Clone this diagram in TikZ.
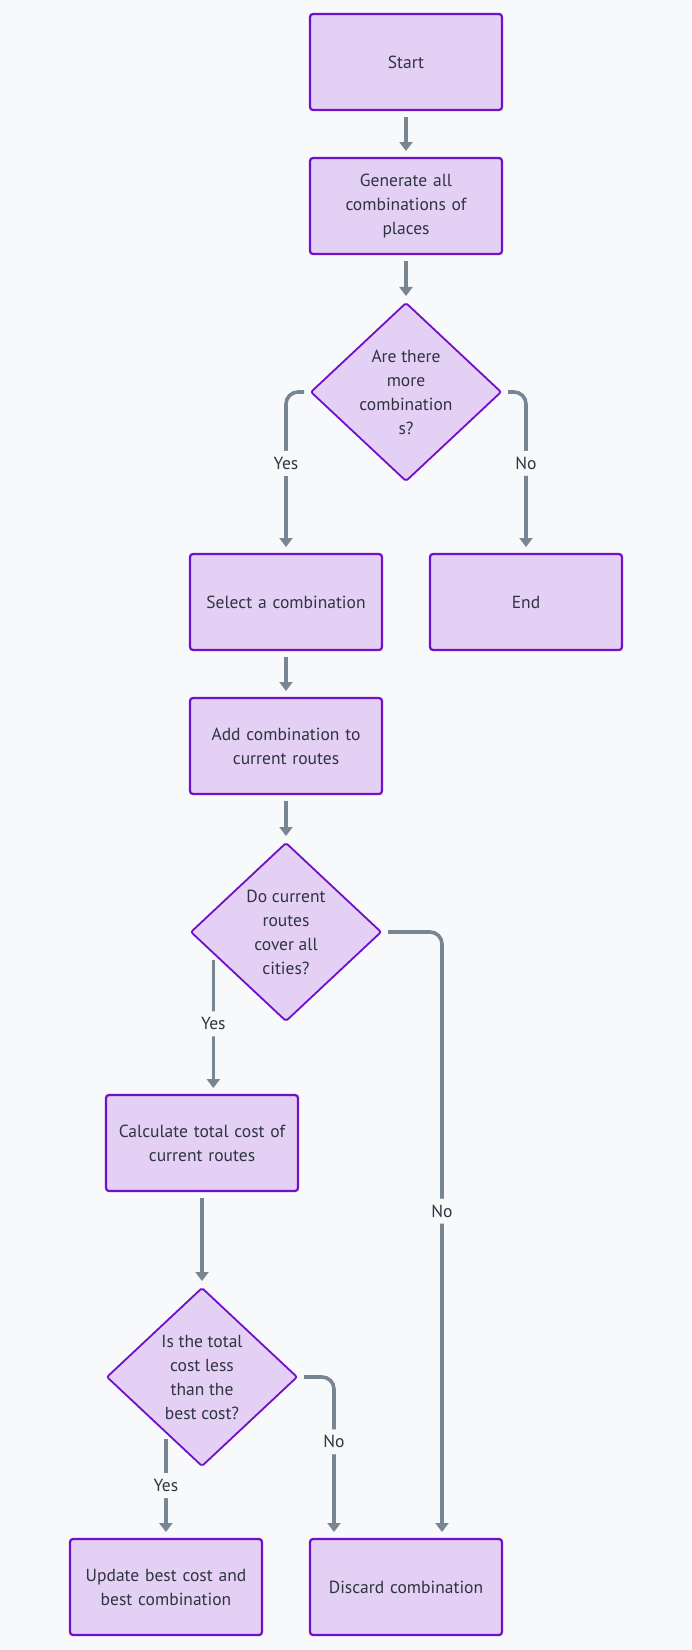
\documentclass[tikz,border=0pt]{standalone}
\usepackage{fontspec}
\setmainfont{PT Sans}
\usetikzlibrary{positioning,shapes.geometric,arrows.meta,calc}
\definecolor{bgcol}{HTML}{F8F9FB}
\definecolor{nodefill}{HTML}{E4D0F4}
\definecolor{nodeline}{HTML}{7010C8}
\definecolor{flowcol}{HTML}{788593}
\definecolor{txtcol}{HTML}{2E3440}
\tikzset{
  process/.style={rectangle, draw=nodeline, fill=nodefill, line width=2.2pt,
    rounded corners=3pt, minimum width=192pt, minimum height=96pt,
    text width=180pt, inner sep=2pt, outer sep=0pt, align=center,
    text=txtcol, font=\fontsize{17.5}{24}\selectfont},
  decision/.style={diamond, draw=nodeline, fill=nodefill, line width=1.8pt,
    rounded corners=2pt, minimum width=190pt, minimum height=178pt,
    inner sep=0pt, outer sep=0pt},
  qtext/.style={align=center, text=txtcol, inner sep=0pt,
    font=\fontsize{17.5}{24}\selectfont},
  flow/.style={draw=flowcol, line width=3.6pt, rounded corners=12pt,
    -{Triangle[length=9pt,width=13pt]}, shorten <=7pt, shorten >=7pt},
  lbl/.style={fill=bgcol, text=txtcol, inner sep=2pt, minimum height=25pt,
    font=\fontsize{17.5}{24}\selectfont},
}
\begin{document}
\begin{tikzpicture}
  \useasboundingbox (0,0) rectangle (692pt,-1650pt);
  \fill[bgcol] (0,0) rectangle (692pt,-1650pt);

  \node[process] (start) at (406pt,-62pt) {Start};
  \node[process, below=48pt of start] (gen) {Generate all\\combinations of\\places};
  \node[decision, below=49pt of gen] (d1) {};
  \node[qtext] (d1text) at (d1) {Are there\\more\\combination\\s?};
  \node[process, below=73pt of d1, xshift=-120pt] (sel) {Select a combination};
  \node[process, right=48pt of sel] (end) {End};
  \node[process, below=48pt of sel] (add) {Add combination to\\current routes};
  \node[decision, below=49pt of add] (d2) {};
  \node[qtext] (d2text) at (d2) {Do current\\routes\\cover all\\cities?};
  \node[process, below=74pt of d2, xshift=-84pt] (calc) {Calculate total cost of\\current routes};
  \node[decision, below=97pt of calc] (d3) {};
  \node[qtext] (d3text) at (d3) {Is the total\\cost less\\than the\\best cost?};
  \node[process, below=73pt of d3, xshift=-36pt] (upd) {Update best cost and\\best combination};
  \node[process, right=48pt of upd] (disc) {Discard combination};

  \coordinate (d2yes) at ($(d2.west)!0.235!(d2.south)$);
  \coordinate (d3yes) at ($(d3.west)!0.62!(d3.south)$);
  \coordinate (discin) at ([xshift=36pt]disc.north);
  \coordinate (discno) at ([xshift=-72pt]disc.north);

  \draw[flow] (start) -- (gen);
  \draw[flow] (gen) -- (d1);
  \draw[flow] (d1.west) -| (sel.north) node[lbl, pos=0.72] {Yes};
  \draw[flow] (d1.east) -| (end.north) node[lbl, pos=0.72] {No};
  \draw[flow] (sel) -- (add);
  \draw[flow] (add) -- (d2);
  \draw[flow] (d2yes) -- (d2yes |- calc.north) node[lbl, midway] {Yes};
  \draw[flow] (d2.east) -| (discin) node[lbl, pos=0.73] {No};
  \draw[flow] (calc) -- (d3);
  \draw[flow] (d3yes) -- (d3yes |- upd.north) node[lbl, midway] {Yes};
  \draw[flow] (d3.east) -| (discno) node[lbl, pos=0.70] {No};
\end{tikzpicture}
\end{document}
